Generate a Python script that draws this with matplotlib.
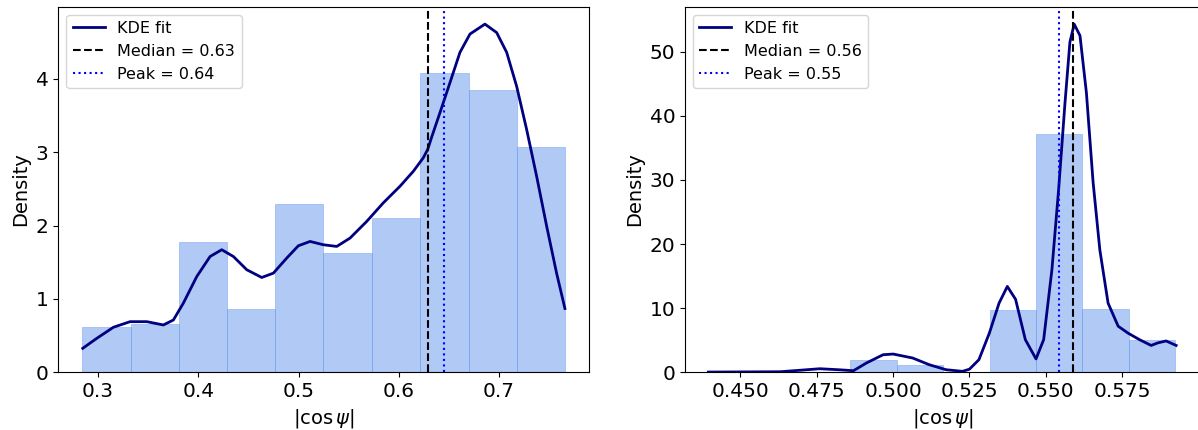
import matplotlib
matplotlib.use('Agg')
import matplotlib.pyplot as plt
import numpy as np

# left panel: histogram (density) + KDE
left_edges = [0.2845, 0.3327, 0.3808, 0.4290, 0.4765, 0.5249, 0.5731, 0.6213, 0.6697, 0.7175, 0.7656]
left_heights = [0.62, 0.66, 1.77, 0.865, 2.30, 1.63, 2.11, 4.08, 3.85, 3.07]
left_kde_x = [0.2848, 0.2988, 0.3154, 0.3320, 0.3487, 0.3652, 0.3752, 0.3851, 0.3985, 0.4118,
              0.4234, 0.4350, 0.4484, 0.4633, 0.4749, 0.4882, 0.4998, 0.5115, 0.5247, 0.5381,
              0.5514, 0.5680, 0.5845, 0.6012, 0.6145, 0.6244, 0.6288, 0.6329, 0.6411, 0.6511,
              0.6610, 0.6710, 0.6859, 0.6976, 0.7076, 0.7175, 0.7275, 0.7375, 0.7475, 0.7574,
              0.7657]
left_kde_y = [0.328, 0.464, 0.615, 0.691, 0.691, 0.646, 0.714, 0.943, 1.306, 1.579,
              1.671, 1.579, 1.398, 1.293, 1.352, 1.557, 1.725, 1.784, 1.739, 1.716,
              1.830, 2.057, 2.309, 2.536, 2.740, 2.923, 3.037, 3.21, 3.54, 3.95,
              4.36, 4.61, 4.745, 4.63, 4.36, 3.90, 3.31, 2.67, 1.99, 1.35,
              0.87]
left_median = 0.629
left_peak = 0.645

# right panel
right_edges = [0.4404, 0.4556, 0.4708, 0.4860, 0.5012, 0.5164, 0.5316, 0.5468, 0.5620, 0.5772, 0.5924]
right_heights = [0, 0, 0, 1.98, 1.14, 0, 9.78, 37.1, 9.93, 5.1]
right_kde_x = [0.4395, 0.4630, 0.4700, 0.4760, 0.4826, 0.4870, 0.4912, 0.4967, 0.5000, 0.5064,
               0.5118, 0.5173, 0.5227, 0.5250, 0.5281, 0.5315, 0.5347, 0.5374, 0.5401, 0.5433,
               0.5468, 0.5493, 0.5520, 0.5542, 0.5563, 0.5579, 0.5593, 0.5612, 0.5633, 0.5655,
               0.5677, 0.5704, 0.5737, 0.5770, 0.5807, 0.5845, 0.5867, 0.5894, 0.5927]
right_kde_y = [0.05, 0.1, 0.35, 0.57, 0.4, 0.26, 1.45, 2.75, 2.86, 2.24,
               1.2, 0.42, 0.16, 0.5, 1.98, 6.1, 10.8, 13.4, 11.4, 5.1,
               2.1, 5.1, 16.0, 28.5, 42.1, 51.5, 54.3, 52.5, 43.6, 29.6,
               19.1, 10.8, 7.2, 6.1, 5.1, 4.2, 4.6, 4.9, 4.2]
right_median = 0.5588
right_peak = 0.5544

fig = plt.figure(figsize=(11.98, 4.30), dpi=100)
ax_l = fig.add_axes([0.0487, 0.134, 0.443, 0.8504])
ax_r = fig.add_axes([0.5718, 0.134, 0.4295, 0.8504])

panels = [
    (ax_l, left_edges, left_heights, left_kde_x, left_kde_y, left_median, left_peak, 'Median = 0.63', 'Peak = 0.64'),
    (ax_r, right_edges, right_heights, right_kde_x, right_kde_y, right_median, right_peak, 'Median = 0.56', 'Peak = 0.55'),
]

for ax, edges, heights, kx, ky, med, peak, med_lbl, peak_lbl in panels:
    edges = np.array(edges)
    ax.bar(edges[:-1], heights, width=np.diff(edges), align='edge',
           color='cornflowerblue', alpha=0.5, edgecolor='cornflowerblue', linewidth=0.6)
    ax.plot(kx, ky, color='navy', lw=2, label='KDE fit')
    ax.axvline(med, color='black', ls='--', lw=1.5, label=med_lbl)
    ax.axvline(peak, color='blue', ls=':', lw=1.5, label=peak_lbl)
    ax.set_xlabel(r'$|\cos\psi|$', fontsize=14)
    ax.set_ylabel('Density', fontsize=14)
    ax.tick_params(labelsize=14.5)
    ax.legend(loc='upper left', fontsize=11.5)

ax_r.set_xticks([0.450, 0.475, 0.500, 0.525, 0.550, 0.575])
ax_r.set_xticklabels(['0.450', '0.475', '0.500', '0.525', '0.550', '0.575'])

plt.savefig('out.png')
